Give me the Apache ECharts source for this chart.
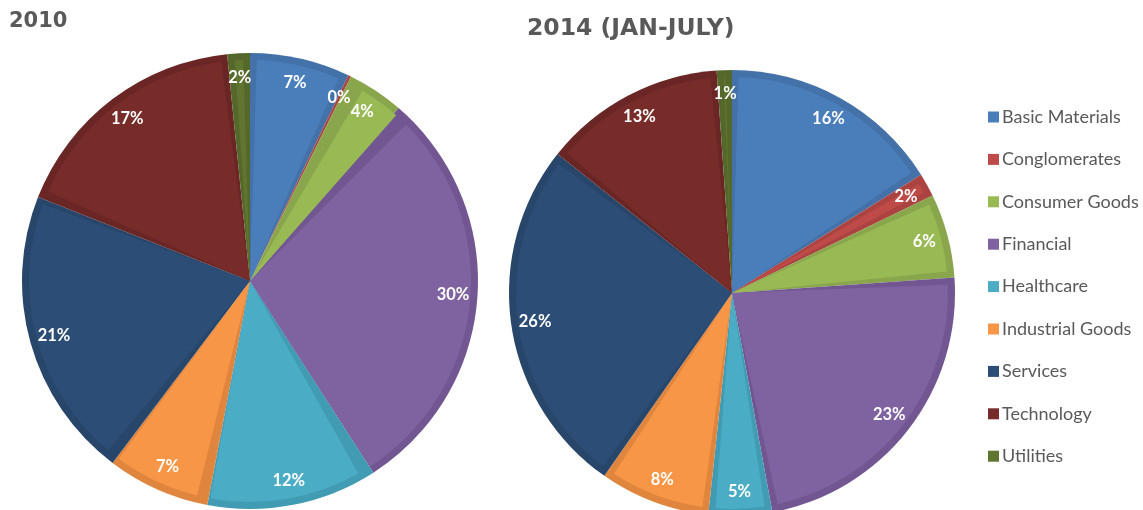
<!DOCTYPE html>
<html>
<head>
<meta charset="utf-8">
<script src="https://cdn.jsdelivr.net/npm/echarts@6/dist/echarts.min.js"></script>
<style>
  html, body { margin: 0; padding: 0; background: #fff; }
  #chart { width: 1143px; height: 510px; }
</style>
</head>
<body>
<div id="chart"></div>
<script>
// sectors, clockwise from 12 o'clock
const sectors = ['Basic Materials', 'Conglomerates', 'Consumer Goods', 'Financial', 'Healthcare',
  'Industrial Goods', 'Services', 'Technology', 'Utilities'];
// share of each sector, percent
const share2010 = [7.1, 0.2, 4.0, 29.6, 12.1, 7.3, 20.7, 17.4, 1.6];
const share2014 = [16.1, 1.7, 6.1, 23.2, 4.6, 8.0, 26.0, 13.2, 1.1];
const titles = ['2010', '2014 (JAN-JULY)'];

const fillColors = ['#4a7ebb', '#be4b48', '#98b954', '#7f63a1', '#4bacc6', '#f79646', '#2c4d75', '#772c2a', '#5f7530'];
const edgeColors = ['#4371a8', '#ab4340', '#89a64c', '#715692', '#419bb3', '#df853d', '#28456a', '#692624', '#55682b'];

const grey = '#595959';

function toData(values, colors) {
  return values.map((v, i) => ({ name: sectors[i], value: v, itemStyle: { color: colors[i] } }));
}

// three stacked pies: dark edge underneath, lighter face on top, transparent ring carrying labels
function pieSeries(values, center, r) {
  return [
    {
      type: 'pie', z: 3, center: center, radius: [0, r - 7],
      startAngle: 90, clockwise: true, padAngle: 3.5,
      label: { show: false }, labelLine: { show: false },
      emphasis: { disabled: true },
      data: toData(values, fillColors)
    },
    {
      type: 'pie', z: 2, center: center, radius: [0, r],
      startAngle: 90, clockwise: true,
      label: { show: false }, labelLine: { show: false },
      emphasis: { disabled: true },
      data: toData(values, edgeColors)
    },
    {
      type: 'pie', z: 4, silent: true, center: center, radius: [Math.round(r * 0.76), r],
      startAngle: 90, clockwise: true,
      itemStyle: { color: 'rgba(0,0,0,0)' },
      label: {
        show: true, position: 'inside', color: '#fff',
        fontFamily: 'Lato', fontWeight: 'bold', fontSize: 16.5,
        formatter: p => Math.round(p.percent) + '%'
      },
      labelLine: { show: false },
      data: values.map((v, i) => ({ name: sectors[i], value: v }))
    }
  ];
}

const chart = echarts.init(document.getElementById('chart'));
chart.setOption({
  animation: false,
  title: [
    { text: titles[0], left: 9, top: 11, padding: 0,
      textStyle: { fontFamily: 'DejaVu Sans', fontWeight: 'bold', fontSize: 21, color: grey } },
    { text: titles[1], left: 527, top: 17, padding: 0,
      textStyle: { fontFamily: 'DejaVu Sans', fontWeight: 'bold', fontSize: 23.5, color: grey } }
  ],
  legend: {
    orient: 'vertical', left: 988, top: 108, padding: 0,
    icon: 'rect', itemWidth: 11, itemHeight: 11, itemGap: 24.4,
    selectedMode: false,
    textStyle: { fontFamily: 'Lato', fontSize: 18, color: grey, lineHeight: 18, padding: [0, 0, 0, -2] },
    data: sectors
  },
  series: [
    ...pieSeries(share2010, [250, 281], 228),
    ...pieSeries(share2014, [732, 293], 223)
  ]
});
</script>
</body>
</html>
